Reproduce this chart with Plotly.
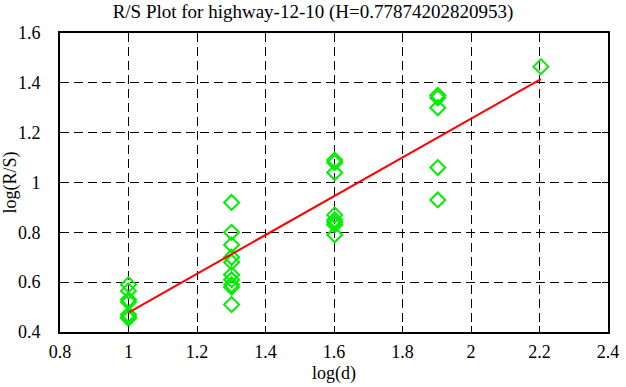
import plotly.graph_objects as go

# data
x_vals = [1.0]*7 + [1.301]*10 + [1.602]*8 + [1.903]*5 + [2.204]
y_vals = [0.59, 0.565, 0.53, 0.52, 0.47, 0.46, 0.455,
          0.92, 0.80, 0.75, 0.70, 0.68, 0.63, 0.61, 0.59, 0.58, 0.51,
          1.09, 1.08, 1.04, 0.87, 0.85, 0.84, 0.83, 0.79,
          1.35, 1.34, 1.30, 1.06, 0.93,
          1.465]
fit_x = [1.0, 2.204]
fit_y = [0.478, 1.415]
x_ticks = [0.8, 1, 1.2, 1.4, 1.6, 1.8, 2, 2.2, 2.4]
x_tick_labels = ["0.8", "1", "1.2", "1.4", "1.6", "1.8", "2", "2.2", "2.4"]
y_ticks = [0.4, 0.6, 0.8, 1.0, 1.2, 1.4, 1.6]
y_tick_labels = ["0.4", "0.6", "0.8", "1", "1.2", "1.4", "1.6"]

font = "Liberation Serif"

fig = go.Figure()
fig.add_trace(go.Scatter(x=x_vals, y=y_vals, mode="markers",
                         marker=dict(symbol="diamond-open", size=11.5, color="#00ee00",
                                     line=dict(width=2, color="#00ee00")),
                         showlegend=False))
fig.add_trace(go.Scatter(x=fit_x, y=fit_y, mode="lines",
                         line=dict(color="#ff0000", width=2), showlegend=False))

axis_common = dict(showline=True, linecolor="black", linewidth=2, mirror="ticks",
                   ticks="inside", ticklen=6, tickcolor="black", tickwidth=1,
                   showgrid=True, gridcolor="black", griddash="9px,5px", gridwidth=1,
                   zeroline=False, automargin=False, ticklabeloverflow="allow",
                   tickfont=dict(family=font, size=18, color="black"))

fig.update_layout(
    width=626, height=387,
    margin=dict(l=60, r=18, t=33, b=55),
    paper_bgcolor="white", plot_bgcolor="white",
    font=dict(family=font, size=18, color="black"),
    title=dict(text="R/S Plot for highway-12-10 (H=0.77874202820953)",
               x=0.5, xanchor="center", y=1 - 11 / 387, yanchor="middle",
               font=dict(family=font, size=19, color="black")),
    xaxis=dict(range=[0.8, 2.4], tickvals=x_ticks, ticktext=x_tick_labels,
               ticklabelstandoff=2,
               title=dict(text="log(d)", font=dict(family=font, size=18, color="black"), standoff=6),
               **axis_common),
    yaxis=dict(range=[0.4, 1.6], tickvals=y_ticks, ticktext=y_tick_labels,
               ticklabelstandoff=14,
               title=dict(text="log(R/S)", font=dict(family=font, size=18, color="black"), standoff=0),
               **axis_common),
)

fig.write_html("out.html", post_script="document.body.style.margin='0';",
               config={"displayModeBar": False})
